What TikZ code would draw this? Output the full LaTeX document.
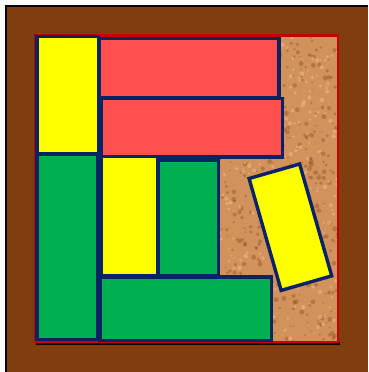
\documentclass[tikz,border=0pt]{standalone}
\usetikzlibrary{calc}
\definecolor{frameBrown}{RGB}{128,62,14}
\definecolor{corkBase}{RGB}{210,146,92}
\definecolor{corkDark}{RGB}{150,85,38}
\definecolor{corkLight}{RGB}{236,182,132}
\definecolor{boardRed}{RGB}{200,0,0}
\definecolor{pieceEdge}{RGB}{10,35,100}
\definecolor{pieceYellow}{RGB}{255,255,0}
\definecolor{pieceRed}{RGB}{255,80,80}
\definecolor{pieceGreen}{RGB}{0,175,80}
\tikzset{
  piece/.style={draw=pieceEdge, line width=3.4pt, line join=miter},
  yel/.style={piece, fill=pieceYellow},
  redp/.style={piece, fill=pieceRed},
  grn/.style={piece, fill=pieceGreen},
}
\begin{document}
\begin{tikzpicture}[x=1pt,y=-1pt]
\useasboundingbox (0,0) rectangle (368,372);
% outer frame
\fill[white] (0,0) rectangle (368,372);
\fill[frameBrown] (6,6) rectangle (368,372);
\draw[black, line width=2pt] (6,372) -- (6,6) -- (368,6);
% board
\fill[black] (36,342) rectangle (340,345);
\fill[corkBase] (35.5,35.5) rectangle (338,342);
\begin{scope}
\clip (36,36) rectangle (337,341);
\pgfmathsetseed{11}
\foreach \i in {1,...,1100}{
  \pgfmathsetmacro\px{36+301*rnd}
  \pgfmathsetmacro\py{36+305*rnd}
  \pgfmathsetmacro\pr{0.8+1.8*rnd}
  \fill[corkDark, opacity=0.45] (\px,\py) circle[radius=\pr];
}
\foreach \i in {1,...,700}{
  \pgfmathsetmacro\px{36+301*rnd}
  \pgfmathsetmacro\py{36+305*rnd}
  \pgfmathsetmacro\pr{0.8+1.5*rnd}
  \fill[corkLight, opacity=0.6] (\px,\py) circle[radius=\pr];
}
\end{scope}
\draw[boardRed, line width=2.5pt] (35.5,35.5) rectangle (338,342);
% pieces
\draw[yel]  (37,36.5) rectangle (98.5,154);
\draw[redp] (99.5,38.3) rectangle (279,97.7);
\draw[redp] (101.7,98.5) rectangle (282.3,157);
\draw[grn]  (37,154.5) rectangle (98,339.5);
\draw[yel]  (101.7,156.7) rectangle (158,275.7);
\draw[grn]  (158.5,160.3) rectangle (218.3,276);
\draw[grn]  (100,277) rectangle (271.7,340.3);
\begin{scope}[shift={(290.4,227.2)}, rotate=16]
\draw[yel] (-26.3,-58.2) rectangle (26.3,58.2);
\end{scope}
\end{tikzpicture}
\end{document}
